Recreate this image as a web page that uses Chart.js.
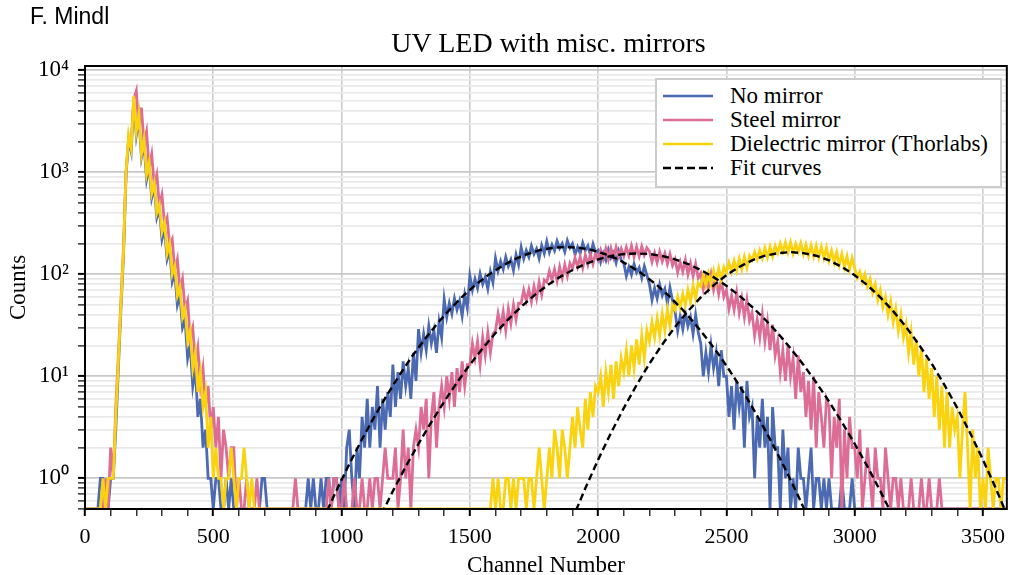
<!DOCTYPE html>
<html>
<head>
<meta charset="utf-8">
<title>UV LED with misc. mirrors</title>
<script src="https://cdn.jsdelivr.net/npm/chart.js@4.4.1/dist/chart.umd.min.js"></script>
<style>
  body { margin: 0; background: #fff; }
  #wrap { position: relative; width: 1013px; height: 575px; }
  #author { position: absolute; left: 30px; top: 5px; font: 23px "Liberation Sans", Arial, sans-serif; line-height: 23px; }
  #title { position: absolute; left: 85px; width: 927px; top: 29px; text-align: center;
           font: 28px "Liberation Serif", serif; line-height: 28px; }
  #legend { position: absolute; left: 655px; top: 78px; width: 347px; height: 110px; box-sizing: border-box;
            border: 2px solid #cccccc; background: #fff; font: 23px "Liberation Serif", serif; }
  .row { position: absolute; left: 6px; height: 24px; display: flex; align-items: center; white-space: nowrap; }
  .row svg { margin-right: 17px; }
</style>
</head>
<body>
<div id="wrap">
  <canvas id="chart" width="1013" height="575"></canvas>
  <div id="author">F. Mindl</div>
  <div id="title">UV LED with misc. mirrors</div>
  <div id="legend"></div>
</div>
<script>
// counts per 10-channel bin (channel = index * 10)
const step = 10;
const noMirror = [
  0,0,0,0,0,0,1,1,0,0,
  1,1,3,12,45,150,950,2100,1600,5000,
  2300,3400,1400,1900,850,1150,560,720,360,440,
  220,280,140,170,85,105,50,62,30,36,
  15,20,8,12,4,6,2,3,1,1,
  0,1,1,0,0,1,0,1,0,0,
  0,0,0,0,0,0,0,0,0,1,
  1,0,0,0,0,0,0,0,0,0,
  0,0,0,0,0,0,0,1,0,1,
  0,0,1,0,1,1,0,1,1,0,
  1,0,2,3,1,0,2,1,4,2,
  6,2,5,3,8,2,6,3,7,4,
  13,5,11,6,14,8,12,6,17,9,
  29,17,26,18,31,21,28,17,34,24,
  57,38,52,41,58,45,55,39,63,47,
  97,70,90,73,101,80,94,72,106,83,
  143,108,134,112,148,120,139,109,155,124,
  184,142,172,148,190,158,178,143,192,160,
  210,164,195,170,212,180,200,166,214,182,
  200,156,185,160,203,170,190,155,198,164,
  172,132,160,137,174,145,162,130,168,138,
  128,96,118,99,126,104,116,92,120,98,
  80,56,73,58,79,62,72,52,74,55,
  43,28,39,29,42,31,38,26,40,27,
  21,10,17,11,20,12,17,8,18,10,
  10,4,8,3,9,5,8,2,9,4,
  5,1,4,2,6,2,4,0,5,2,
  2,0,3,1,2,0,1,0,2,1,
  1,0,1,2,0,1,1,0,1,0,
  1,0,0,0,0,1,0,0,0,1,
  0,0,0,0,0,0,0,0,0,0,
  0,0,0,0,0,0,0,0,0,0,
  0,0,0,0,0,0,0,0,0,0,
  0,0,0,0,0,0,0,0,0,0,
  0,0,0,0,0,0,0,0,0,0,
  0,0,0,0,0,0,0,0,0,0
];
const steelMirror = [
  0,0,0,0,0,0,0,0,1,0,
  2,1,5,16,55,180,1000,2100,1900,5200,
  6300,2600,4300,1900,2500,1100,1500,750,950,470,
  600,310,360,190,220,110,140,70,90,45,
  55,24,30,13,19,8,12,5,8,3,
  5,2,4,1,3,2,1,2,2,0,
  1,0,0,1,0,0,0,1,0,0,
  0,0,0,0,0,0,0,0,0,0,
  0,0,1,0,0,0,0,0,0,0,
  0,0,0,0,0,1,0,1,1,0,
  0,1,0,0,0,1,0,0,1,0,
  0,1,0,1,1,0,1,2,1,1,
  1,2,0,1,3,1,2,0,2,3,
  2,5,3,6,1,4,7,2,5,8,
  5,10,6,11,5,12,7,14,8,13,
  13,21,15,22,13,24,16,27,17,26,
  28,41,30,43,28,46,33,50,36,52,
  52,70,55,71,54,76,58,84,63,88,
  84,108,88,112,86,118,92,124,96,128,
  114,145,118,148,116,154,124,158,126,160,
  138,172,142,178,140,180,146,184,150,178,
  150,184,152,190,148,186,150,188,154,182,
  168,132,162,130,166,134,160,126,158,122,
  140,104,132,106,138,100,128,96,126,92,
  102,72,94,74,100,70,90,64,88,60,
  70,46,62,45,66,42,58,38,56,35,
  42,25,36,24,40,22,34,18,32,16,
  22,11,18,9,20,10,15,6,16,7,
  11,4,9,3,10,2,7,4,2,6,
  5,1,4,2,6,0,3,1,4,2,
  2,1,3,0,1,2,1,0,2,1,
  1,0,2,1,0,1,1,0,1,0,
  0,0,1,0,0,0,1,0,0,1,
  0,0,0,1,0,0,0,0,0,0,
  0,0,0,0,0,0,0,0,0,0,
  0,0,0,0,0,0,0,0,0,0
];
const dielectricMirror = [
  0,0,0,0,0,0,0,1,0,1,
  1,1,4,14,50,170,1000,2300,1700,5600,
  2500,3700,1500,2100,950,1250,620,780,400,480,
  260,320,160,200,100,120,62,75,38,46,
  22,28,12,17,7,11,5,7,2,4,
  1,2,1,1,0,1,1,2,1,0,
  1,1,2,1,0,1,0,0,0,0,
  0,0,0,0,0,0,0,0,0,0,
  0,0,0,0,0,0,0,0,0,0,
  0,0,0,0,0,0,0,0,0,0,
  0,0,0,0,0,0,0,0,0,0,
  0,0,0,0,0,0,0,0,0,0,
  0,0,0,0,0,0,0,0,0,0,
  0,0,0,0,0,0,0,0,0,0,
  0,0,0,0,0,0,0,0,0,0,
  0,0,0,0,0,0,0,0,0,1,
  0,1,0,0,1,1,0,1,0,1,
  1,1,0,1,1,0,1,2,1,0,
  1,2,1,3,2,1,3,2,1,2,
  4,2,5,3,2,6,3,7,4,8,
  7,10,5,11,7,13,6,14,8,15,
  11,18,10,20,12,23,13,25,15,28,
  22,34,24,37,25,41,28,45,31,50,
  45,60,47,64,50,70,53,77,58,82,
  76,98,78,102,80,108,84,114,88,118,
  104,130,106,136,108,142,112,148,116,152,
  138,165,140,172,144,180,146,186,150,190,
  162,200,166,204,164,206,160,198,166,202,
  158,196,152,192,150,190,146,186,144,182,
  136,170,130,164,124,158,118,150,112,144,
  114,92,106,84,100,76,90,66,80,56,
  70,48,60,40,54,34,46,28,40,24,
  32,17,27,13,23,10,19,7,15,6,
  12,4,10,3,8,2,7,2,5,3,
  4,1,3,7,2,0,3,1,2,0,
  1,0,2,1,0,1,1,0,1,1
];

// fit curves, sampled every 50 channels
const fitStep = 50;
const noMirrorFitStart = 875;
const noMirrorFit = [0.194,0.379,0.714,1.30,2.29,3.90,6.42,10.2,15.7,23.2,33.3,46.1,61.7,79.8,99.7,120,141,158,173,182,
  185,182,173,158,141,120,99.7,79.8,61.7,46.1,33.3,23.2,15.7,10.2,6.42,3.90,2.29,1.30,0.714,0.379,0.194];
const steelFitStart = 1100;
const steelFit = [0.228,0.419,0.748,1.30,2.18,3.56,5.65,8.69,13.0,18.8,26.5,36.2,48.0,61.8,77.2,93.7,110,126,140,151,158,
  160,158,151,140,126,110,93.7,77.2,61.8,48.0,36.2,26.5,18.8,13.0,8.69,5.65,3.56,2.18,1.30,0.748,0.419,0.228];
const dielectricFitStart = 1850;
const dielectricFit = [0.193,0.401,0.797,1.52,2.78,4.88,8.21,13.3,20.5,30.5,43.5,59.4,77.9,97.9,118,137,152,161,
  165,161,152,137,118,97.9,77.9,59.4,43.5,30.5,20.5,13.3,8.21,4.88,2.78,1.52,0.797,0.401,0.193];

const seriesNames = ['No mirror', 'Steel mirror', 'Dielectric mirror (Thorlabs)', 'Fit curves'];
const seriesColors = ['#4c6ab2', '#dc6e95', '#f9d30f', '#000000'];

const xTickValues = [0, 500, 1000, 1500, 2000, 2500, 3000, 3500];
const yTickValues = [1, 10, 100, 1000, 10000];
const yTickLabels = ['10⁰', '10¹', '10²', '10³', '10⁴'];

const toPoints = (arr, start, dx) => arr.map((v, i) => ({ x: start + i * dx, y: v }));

const xMinorTicks = [];
for (let v = 0; v <= 3500; v += 100) xMinorTicks.push(v);
const yMinorTicks = [];
for (let e = -1; e <= 4; e++) {
  for (let m = 1; m <= 9; m++) {
    const v = m * Math.pow(10, e);
    if (v >= 0.5 && v <= 11000) yMinorTicks.push(v);
  }
}

const serif = 'Liberation Serif, Times New Roman, serif';

const frame = {
  id: 'frame',
  afterDatasetsDraw(chart) {
    const { ctx, chartArea: a } = chart;
    ctx.save();
    ctx.strokeStyle = '#000';
    ctx.lineWidth = 2;
    ctx.strokeRect(a.left, a.top, a.right - a.left, a.bottom - a.top);
    ctx.restore();
  }
};

const dataLine = (label, data, color, order) => ({
  label, data, order,
  borderColor: color, borderWidth: 2.8,
  pointRadius: 0, tension: 0, fill: false,
});
const fitLine = (data) => ({
  label: 'Fit curves', data, order: 0,
  borderColor: '#000', borderWidth: 2.4, borderDash: [7, 4],
  pointRadius: 0, tension: 0, fill: false,
});

new Chart(document.getElementById('chart').getContext('2d'), {
  type: 'line',
  data: {
    datasets: [
      fitLine(toPoints(noMirrorFit, noMirrorFitStart, fitStep)),
      fitLine(toPoints(steelFit, steelFitStart, fitStep)),
      fitLine(toPoints(dielectricFit, dielectricFitStart, fitStep)),
      dataLine(seriesNames[2], toPoints(dielectricMirror, 0, step), seriesColors[2], 1),
      dataLine(seriesNames[1], toPoints(steelMirror, 0, step), seriesColors[1], 2),
      dataLine(seriesNames[0], toPoints(noMirror, 0, step), seriesColors[0], 3),
    ],
  },
  options: {
    responsive: false,
    animation: false,
    parsing: false,
    normalized: true,
    devicePixelRatio: 1,
    layout: { padding: { top: 66, right: 1, left: 0, bottom: 0 } },
    plugins: {
      legend: { display: false },
      title: { display: false },
      tooltip: { enabled: false },
    },
    scales: {
      x: {
        type: 'linear', min: 0, max: 3593,
        afterBuildTicks: (s) => { s.ticks = xMinorTicks.map((v) => ({ value: v })); },
        afterFit: (s) => { s.height = 66; },
        ticks: {
          autoSkip: false, maxRotation: 0, padding: 8, color: '#000',
          font: { family: serif, size: 22 },
          callback: (v) => (xTickValues.includes(v) ? String(v) : ''),
        },
        grid: {
          color: (c) => (c.tick && xTickValues.includes(c.tick.value) ? '#cccccc' : 'rgba(0,0,0,0)'),
          lineWidth: 1.6,
          tickColor: '#000',
          tickLength: 7,
          tickWidth: (c) => (c.tick && xTickValues.includes(c.tick.value) ? 2 : 1.2),
        },
        border: { display: false },
        title: {
          display: true, text: 'Channel Number', color: '#000',
          font: { family: serif, size: 23 }, padding: { top: 0, bottom: -5 },
        },
      },
      y: {
        type: 'logarithmic', min: 0.5, max: 11000,
        afterBuildTicks: (s) => { s.ticks = yMinorTicks.map((v) => ({ value: v })); },
        afterFit: (s) => { s.width = 85; },
        ticks: {
          autoSkip: false, padding: 9, color: '#000',
          font: { family: serif, size: 23 },
          callback: (v) => { const k = yTickValues.indexOf(v); return k >= 0 ? yTickLabels[k] : ''; },
        },
        grid: {
          color: (c) => (c.tick && yTickValues.includes(c.tick.value) ? '#c8c8c8' : '#e9e9e9'),
          lineWidth: 1.8,
          tickColor: '#000',
          tickLength: 7,
          tickWidth: (c) => (c.tick && yTickValues.includes(c.tick.value) ? 2 : 1.2),
        },
        border: { display: false },
        title: {
          display: true, text: 'Counts', color: '#000',
          font: { family: serif, size: 23 }, padding: { top: 5, bottom: 0 },
        },
      },
    },
  },
  plugins: [frame],
});

// legend box drawn as page text over the plot
const legend = document.getElementById('legend');
seriesNames.forEach((name, i) => {
  const row = document.createElement('div');
  row.className = 'row';
  row.style.top = (4 + i * 24) + 'px';
  const dash = i === 3 ? ' stroke-dasharray="8,4"' : '';
  row.innerHTML = '<svg width="50" height="6"><line x1="0" y1="3" x2="50" y2="3" stroke="' + seriesColors[i] +
    '" stroke-width="2.6"' + dash + '/></svg><span>' + name + '</span>';
  legend.appendChild(row);
});
</script>
</body>
</html>
